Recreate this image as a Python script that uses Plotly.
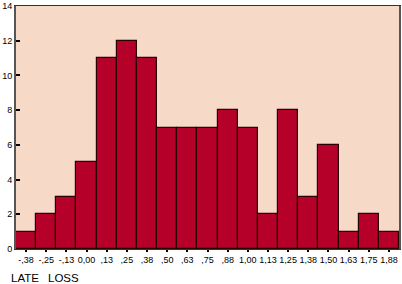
import plotly.graph_objects as go

categories = ["-,38", "-,25", "-,13", "0,00", ",13", ",25", ",38", ",50", ",63", ",75",
              ",88", "1,00", "1,13", "1,25", "1,38", "1,50", "1,63", "1,75", "1,88"]
counts = [1, 2, 3, 5, 11, 12, 11, 7, 7, 7, 8, 7, 2, 8, 3, 6, 1, 2, 1]
y_ticks = [0, 2, 4, 6, 8, 10, 12, 14]
x_title_words = ["LATE", "LOSS"]

W, H = 402, 284
L, R, T, B = 16, 1, 5, 35
FONT = "Liberation Sans, Arial, sans-serif"

fig = go.Figure(go.Bar(
    x=categories, y=counts,
    marker=dict(color="#B5002A", line=dict(color="#2A0000", width=1.2)),
))

pw = W - L - R
ph = H - T - B
title_x_px = [9, 46]
annotations = [
    dict(text=w, xref="paper", yref="paper",
         x=(px - L) / pw, y=-(278 - (H - B)) / ph,
         xanchor="left", yanchor="middle", showarrow=False,
         font=dict(size=11.5, color="black", family=FONT))
    for w, px in zip(x_title_words, title_x_px)
]

fig.update_layout(
    width=W, height=H,
    margin=dict(l=L, r=R, t=T, b=B, pad=0),
    paper_bgcolor="white", plot_bgcolor="#F7D9C8",
    bargap=0, showlegend=False,
    font=dict(family=FONT, size=9, color="black"),
    xaxis=dict(
        type="category", showgrid=False, zeroline=False,
        showline=True, linecolor="#333333", linewidth=1, mirror=True,
        ticks="outside", ticklen=2, tickwidth=2, tickcolor="black",
        tickfont=dict(size=9), tickangle=0, range=[-0.5, len(categories) - 0.5],
    ),
    yaxis=dict(
        range=[0, 14], tickvals=y_ticks, showgrid=False, zeroline=False,
        showline=True, linecolor="#555555", linewidth=2, mirror=True,
        ticks="inside", ticklen=4, tickwidth=2, tickcolor="black",
        tickfont=dict(size=9), ticklabelstandoff=0,
    ),
    annotations=annotations,
)

fig.write_html("out.html")
